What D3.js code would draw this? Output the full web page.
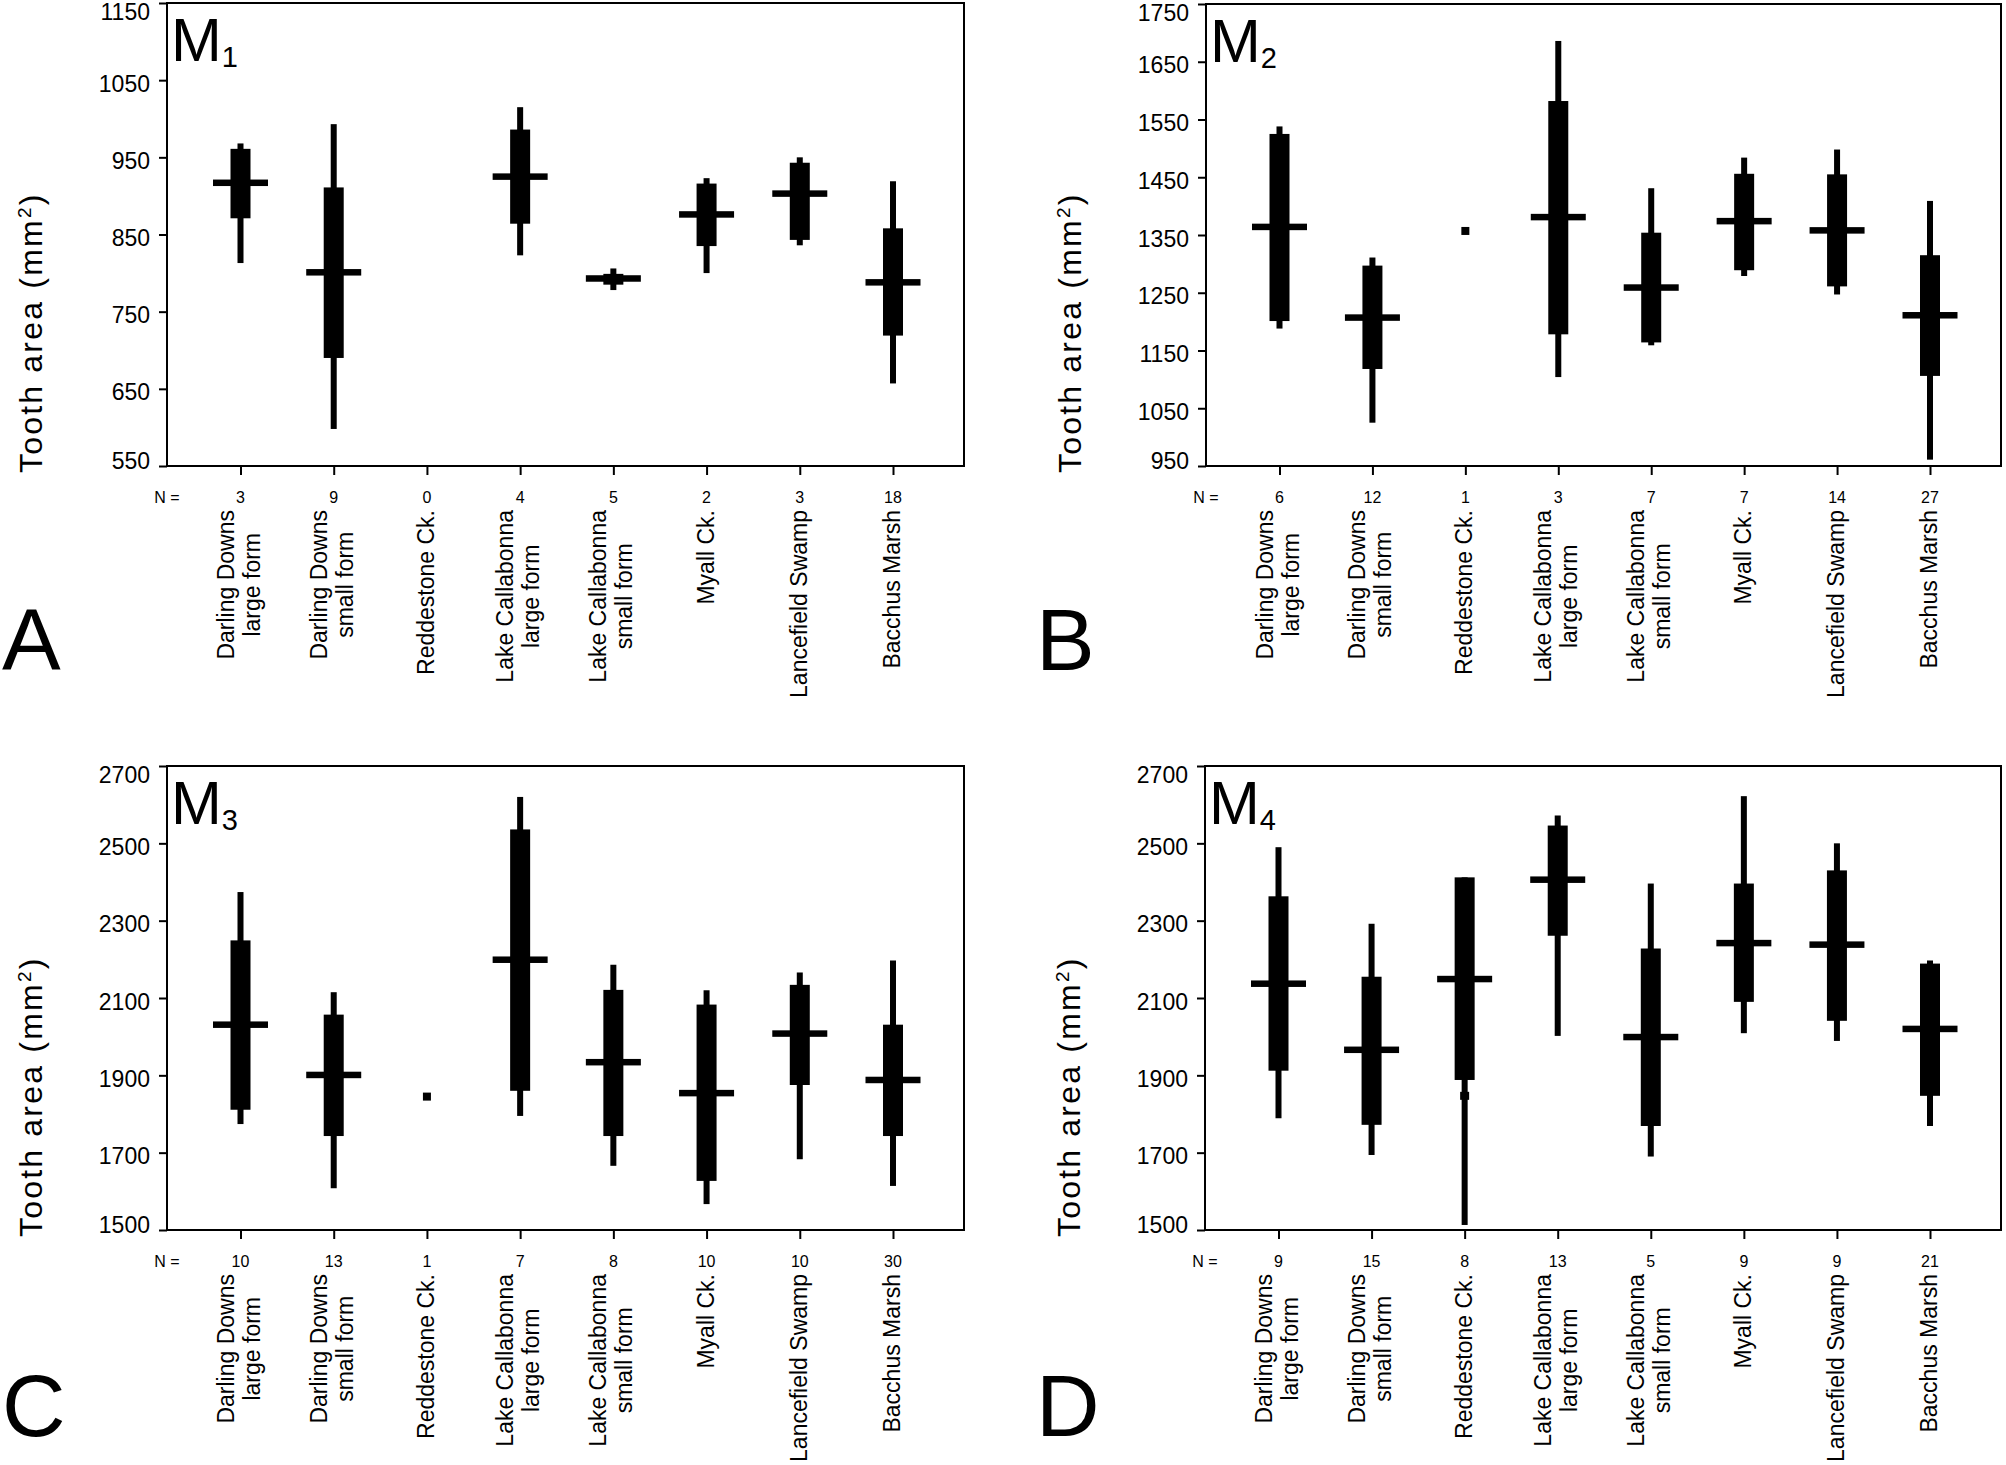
<!DOCTYPE html>
<html><head><meta charset="utf-8">
<script src="https://cdn.jsdelivr.net/npm/d3@7"></script>
<style>
html,body{margin:0;padding:0;background:#fff;}
svg{display:block;font-family:"Liberation Sans",Arial,Helvetica,sans-serif;}
</style></head><body>
<svg id="chart" width="2006" height="1465"></svg>
<script>
// ---------- data ----------
const categories = ["Darling Downs large form","Darling Downs small form","Reddestone Ck.","Lake Callabonna large form","Lake Callabonna small form","Myall Ck.","Lancefield Swamp","Bacchus Marsh"];
const categoryLines = [["Darling Downs","large form"],["Darling Downs","small form"],["Reddestone Ck."],["Lake Callabonna","large form"],["Lake Callabonna","small form"],["Myall Ck."],["Lancefield Swamp"],["Bacchus Marsh"]];

// M1
const m1Ticks = [550,650,750,850,950,1050,1150];
const m1N   = [3,9,0,4,5,2,3,18];
const m1Max = [968,993,null,1015,806,923,950,919];
const m1Q3  = [961,911,null,986,799,916,943,858];
const m1Med = [917,801,null,925,793,876,903,788];
const m1Q1  = [871,690,null,864,785,835,843,719];
const m1Min = [813,598,null,823,778,800,836,657];

// M2
const m2Ticks = [950,1050,1150,1250,1350,1450,1550,1650,1750];
const m2N   = [6,12,1,3,7,7,14,27];
const m2Max = [1538,1311,null,1686,1431,1484,1498,1409];
const m2Q3  = [1525,1297,null,1582,1354,1456,1455,1315];
const m2Med = [1364,1207,1357,1381,1259,1374,1358,1211];
const m2Q1  = [1201,1118,null,1178,1164,1289,1261,1106];
const m2Min = [1188,1025,null,1104,1159,1279,1247,961];

// M3
const m3Ticks = [1500,1700,1900,2100,2300,2500,2700];
const m3N   = [10,13,1,7,8,10,10,30];
const m3Max = [2374,2115,null,2620,2186,2120,2166,2197];
const m3Q3  = [2249,2057,null,2536,2121,2083,2134,2031];
const m3Med = [2031,1901,1845,2199,1934,1854,2008,1888];
const m3Q1  = [1811,1743,null,1860,1743,1627,1875,1743];
const m3Min = [1774,1608,null,1795,1666,1567,1683,1614];

// M4
const m4Ticks = [1500,1700,1900,2100,2300,2500,2700];
const m4N   = [9,15,8,13,5,9,9,21];
const m4Max = [2490,2292,2412,2572,2396,2622,2500,2197];
const m4Q3  = [2363,2155,2412,2546,2228,2396,2430,2189];
const m4Med = [2137,1966,2149,2406,1999,2242,2238,2020];
const m4Q1  = [1912,1772,1888,2261,1769,2090,2041,1847];
const m4Min = [1789,1694,1513,2002,1690,2009,1989,1769];
const m4Mark = [null,null,1847,null,null,null,null,null];

// ---------- layout ----------
const panels = [
  {letter:"A", sub:"1", ticks:m1Ticks, n:m1N, max:m1Max, q3:m1Q3, med:m1Med, q1:m1Q1, min:m1Min, mark:null,
   left:167, right:964, top:3, bottom:466, lx:2, ly:670},
  {letter:"B", sub:"2", ticks:m2Ticks, n:m2N, max:m2Max, q3:m2Q3, med:m2Med, q1:m2Q1, min:m2Min, mark:null,
   left:1206, right:2001, top:4, bottom:466, lx:1036, ly:670},
  {letter:"C", sub:"3", ticks:m3Ticks, n:m3N, max:m3Max, q3:m3Q3, med:m3Med, q1:m3Q1, min:m3Min, mark:null,
   left:167, right:964, top:766, bottom:1230, lx:2, ly:1436},
  {letter:"D", sub:"4", ticks:m4Ticks, n:m4N, max:m4Max, q3:m4Q3, med:m4Med, q1:m4Q1, min:m4Min, mark:m4Mark,
   left:1205, right:2001, top:766, bottom:1230, lx:1036, ly:1436}
];

const svg = d3.select("#chart");
svg.append("rect").attr("width",2006).attr("height",1465).attr("fill","#fff");

const WHISKER_W = 6, BOX_W = 20, MED_W = 55, MED_H = 6.5;

panels.forEach(p => {
  const g = svg.append("g");
  const idx = categories.map((d,i)=>i);
  const x = d3.scalePoint().domain(idx).range([p.left + 73.5, p.right - 71]);
  const y = d3.scaleLinear().domain([p.ticks[0], p.ticks[p.ticks.length-1]]).range([p.bottom, p.top]);

  // frame
  g.append("rect").attr("x",p.left).attr("y",p.top)
    .attr("width",p.right-p.left).attr("height",p.bottom-p.top)
    .attr("fill","none").attr("stroke","#000").attr("stroke-width",2);

  // y axis
  const ya = g.append("g").attr("transform",`translate(${p.left},0)`)
    .call(d3.axisLeft(y).tickValues(p.ticks).tickSize(8).tickPadding(9).tickFormat(d3.format("d")));
  ya.select(".domain").remove();
  ya.selectAll(".tick line").attr("stroke","#000").attr("stroke-width",2);
  ya.selectAll(".tick text").attr("font-size",23).attr("fill","#000")
    .attr("font-family",'"Liberation Sans",Arial,sans-serif')
    .attr("dy", d => {
      const ty = y(d);
      let cy = Math.min(Math.max(ty + 3, p.top + 8), p.bottom - 6);
      return (cy - ty + 8) + "px";
    });

  // x axis ticks
  const xa = g.append("g").attr("transform",`translate(0,${p.bottom})`)
    .call(d3.axisBottom(x).tickSize(9).tickFormat(""));
  xa.select(".domain").remove();
  xa.selectAll(".tick line").attr("stroke","#000").attr("stroke-width",2);

  // marks
  idx.forEach(i => {
    const cx = x(i);
    if (p.n[i] === 0) return;
    if (p.n[i] === 1) {
      g.append("rect").attr("x",cx-4).attr("y",y(p.med[i])-4).attr("width",8).attr("height",8).attr("fill","#000");
      return;
    }
    g.append("rect").attr("x",cx-WHISKER_W/2).attr("y",y(p.max[i]))
      .attr("width",WHISKER_W).attr("height",y(p.min[i])-y(p.max[i])).attr("fill","#000");
    g.append("rect").attr("x",cx-BOX_W/2).attr("y",y(p.q3[i]))
      .attr("width",BOX_W).attr("height",y(p.q1[i])-y(p.q3[i])).attr("fill","#000");
    g.append("rect").attr("x",cx-MED_W/2).attr("y",y(p.med[i])-MED_H/2)
      .attr("width",MED_W).attr("height",MED_H).attr("fill","#000");
    if (p.mark && p.mark[i] != null) {
      g.append("rect").attr("x",cx-4.5).attr("y",y(p.mark[i])-4)
        .attr("width",9).attr("height",8).attr("fill","#000");
    }
  });

  // M label
  const mt = g.append("text").attr("x",p.left+4).attr("y",p.top+58)
    .attr("font-size",61).attr("fill","#000").text("M");
  mt.append("tspan").attr("font-size",29).attr("dy",6).text(p.sub);

  // N = row
  g.append("text").attr("x",p.left).attr("y",p.bottom+37).attr("text-anchor","middle")
    .attr("font-size",16).attr("fill","#000").text("N =");
  idx.forEach(i => {
    g.append("text").attr("x",x(i)).attr("y",p.bottom+37).attr("text-anchor","middle")
      .attr("font-size",16).attr("fill","#000").text(p.n[i]);
  });

  // category labels (rotated)
  idx.forEach(i => {
    const lines = categoryLines[i];
    const lg = g.append("g").attr("transform",`translate(${x(i)},${p.bottom+44}) rotate(-90)`);
    const texts = lines.map((t,k) => lg.append("text").attr("font-size",23).attr("fill","#000")
      .attr("text-anchor","middle").text(t));
    const maxLen = d3.max(texts, t => t.node().getComputedTextLength());
    const offs = lines.length === 1 ? [7] : [-7, 19];
    texts.forEach((t,k) => t.attr("x", -maxLen/2).attr("y", offs[k]));
  });

  // y axis title
  const title = g.append("text").attr("transform",`translate(${p.left-125},${p.bottom+7}) rotate(-90)`)
    .attr("font-size",32).attr("letter-spacing",2.2).attr("fill","#000");
  title.append("tspan").text("Tooth area (mm");
  title.append("tspan").attr("font-size",19).attr("dy",-11).text("2");
  title.append("tspan").attr("dy",11).text(")");

  // panel letter
  g.append("text").attr("x",p.lx).attr("y",p.ly).attr("font-size",88).attr("fill","#000").text(p.letter);
});
</script>
</body></html>
